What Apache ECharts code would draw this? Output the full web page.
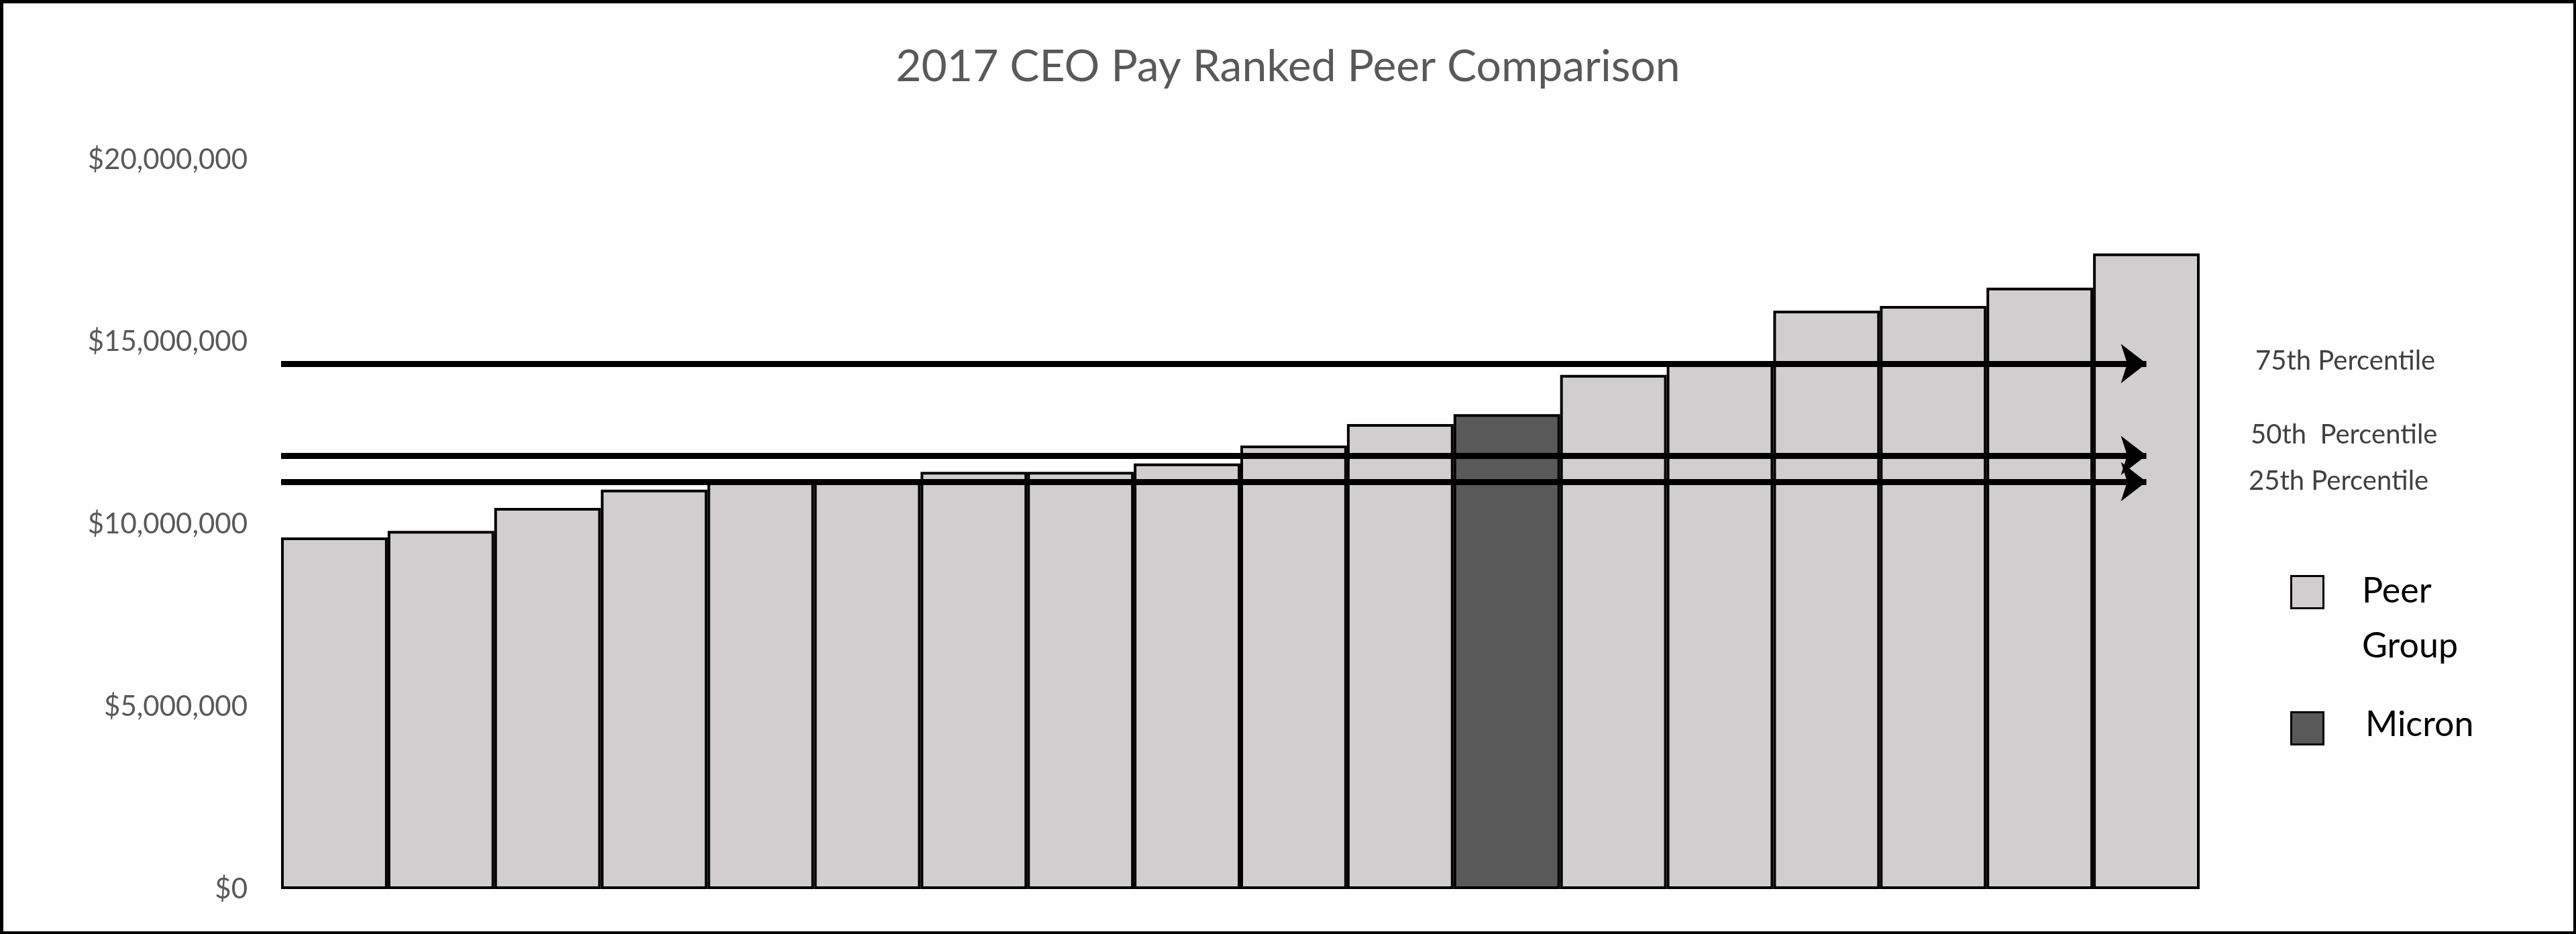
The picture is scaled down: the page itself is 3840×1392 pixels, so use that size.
<!DOCTYPE html>
<html>
<head>
<meta charset="utf-8">
<script src="https://cdn.jsdelivr.net/npm/echarts@6/dist/echarts.min.js"></script>
<style>
  html, body { margin: 0; padding: 0; background: #fff; }
  #chart { width: 3840px; height: 1392px; }
</style>
</head>
<body>
<div id="chart"></div>
<script>
// ranked peer CEO pay, in dollars (lowest to highest)
var companies = ['P1', 'P2', 'P3', 'P4', 'P5', 'P6', 'P7', 'P8', 'P9', 'P10', 'P11', 'Micron', 'P13', 'P14', 'P15', 'P16', 'P17', 'P18'];
var pay = [9640000, 9820000, 10450000, 10950000, 11170000, 11170000, 11440000, 11440000, 11670000,
  12160000, 12750000, 13020000, 14100000, 14410000, 15860000, 15990000, 16490000, 17430000];
var highlight = 'Micron';
var percentileNames = ['75th Percentile', '50th  Percentile', '25th Percentile'];
var percentileValues = [14410000, 11890000, 11170000];

var FONT = 'Lato';
var chart = echarts.init(document.getElementById('chart'));

function money(v) {
  return '$' + v.toLocaleString('en-US');
}

var option = {
  backgroundColor: '#fff',
  animation: false,
  title: {
    text: '2017 CEO Pay Ranked Peer Comparison',
    left: 'center',
    top: 62,
    textStyle: { fontFamily: FONT, fontSize: 66, fontWeight: 'normal', color: '#595959' }
  },
  grid: { left: 419, right: 561, top: 238, bottom: 67 },
  xAxis: [{
    type: 'category',
    data: companies,
    axisLine: { show: false },
    axisTick: { show: false },
    axisLabel: { show: false }
  }, {
    type: 'value',
    min: 0,
    max: companies.length,
    show: false
  }],
  yAxis: {
    type: 'value',
    min: 0,
    max: 20000000,
    interval: 5000000,
    splitLine: { show: false },
    axisLine: { show: false },
    axisTick: { show: false },
    axisLabel: {
      formatter: money,
      fontFamily: FONT,
      fontSize: 42,
      color: '#595959',
      margin: 50
    }
  },
  series: [{
    type: 'bar',
    barWidth: '100%',
    data: pay.map(function (v, i) {
      return {
        value: v,
        itemStyle: { color: companies[i] === highlight ? '#595959' : '#D0CECE' }
      };
    }),
    itemStyle: { borderColor: '#000', borderWidth: 4 }
  }, {
    type: 'line',
    xAxisIndex: 1,
    data: [],
    markLine: {
      silent: true,
      symbol: ['none', 'arrow'],
      symbolSize: [44, 38],
      lineStyle: { color: '#000', width: 9, type: 'solid' },
      label: { show: false },
      data: percentileValues.map(function (v) {
        return [{ coord: [0, v] }, { coord: [17.5, v] }];
      })
    }
  }],
  graphic: [
    { type: 'rect', left: 0, top: 0, shape: { width: 3836, height: 1388 }, style: { fill: 'none', stroke: '#000', lineWidth: 5 } },
    { type: 'text', left: 3362, top: 518, style: { text: percentileNames[0], font: '40px Lato', fill: '#404040' } },
    { type: 'text', left: 3355, top: 628, style: { text: percentileNames[1], font: '40px Lato', fill: '#404040' } },
    { type: 'text', left: 3352, top: 697, style: { text: percentileNames[2], font: '40px Lato', fill: '#404040' } },
    { type: 'rect', left: 3414, top: 857, shape: { width: 48, height: 48 }, style: { fill: '#D0CECE', stroke: '#000', lineWidth: 3 } },
    { type: 'text', left: 3521, top: 840, style: { text: 'Peer\nGroup', font: '52px Lato', fill: '#000', lineHeight: 82 } },
    { type: 'rect', left: 3414, top: 1060, shape: { width: 48, height: 48 }, style: { fill: '#595959', stroke: '#000', lineWidth: 3 } },
    { type: 'text', left: 3526, top: 1054, style: { text: 'Micron', font: '52px Lato', fill: '#000' } }
  ]
};

chart.setOption(option);
</script>
</body>
</html>
